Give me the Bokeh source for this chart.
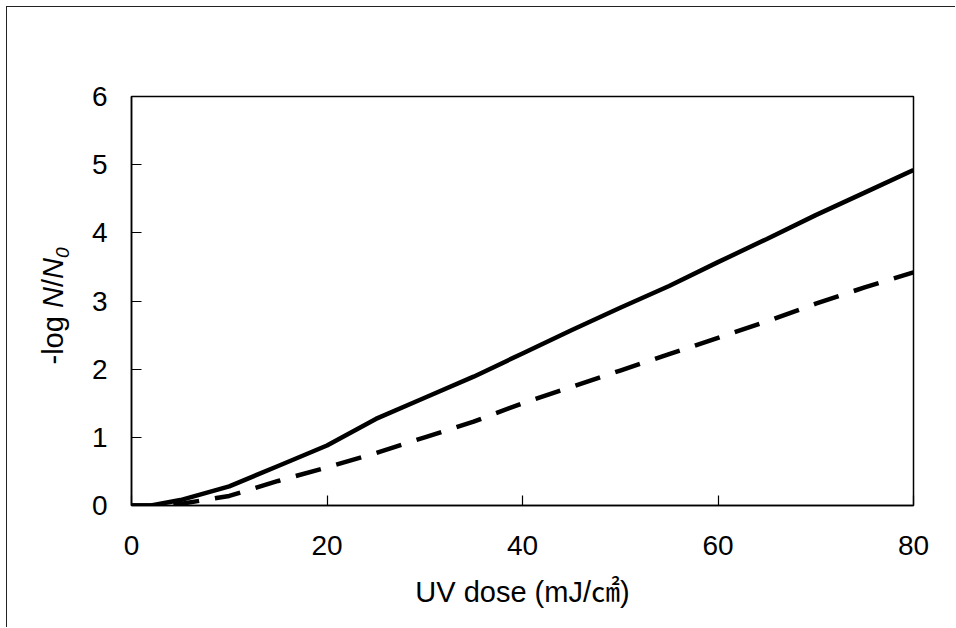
from bokeh.plotting import figure
from bokeh.models import Range1d, FixedTicker, Div
from bokeh.layouts import row
from bokeh.embed import file_html
from bokeh.resources import INLINE

# UV dose (mJ/cm2) and log inactivation for the two curves
dose_solid = [0, 2, 5, 10, 15, 20, 25, 30, 35, 40, 45, 50, 55, 60, 65, 70, 75, 80]
logred_solid = [0, 0, 0.08, 0.28, 0.58, 0.88, 1.27, 1.58, 1.89, 2.23, 2.57, 2.9,
                3.22, 3.57, 3.91, 4.26, 4.59, 4.92]

dose_dashed = [0, 4, 10, 15, 20, 25, 30, 35, 40, 45, 50, 55, 60, 65, 70, 75, 80]
logred_dashed = [0, 0, 0.14, 0.36, 0.56, 0.77, 1.0, 1.23, 1.5, 1.74, 1.98, 2.22,
                 2.46, 2.7, 2.96, 3.2, 3.42]

x_ticks = [0, 20, 40, 60, 80]
y_ticks = [0, 1, 2, 3, 4, 5, 6]

FONT = '"Liberation Sans", "Noto Sans CJK KR", sans-serif'
LABEL_W = 76
H = 620

p = figure(width=948 - LABEL_W, height=H, output_backend="svg", toolbar_location=None,
           x_range=Range1d(0, 80), y_range=Range1d(0, 6),
           min_border_left=124 - LABEL_W, min_border_right=42,
           min_border_top=89, min_border_bottom=122)

p.background_fill_color = "white"
p.border_fill_color = "white"
p.outline_line_color = "black"
p.outline_line_width = 1.5
p.xgrid.visible = False
p.ygrid.visible = False

for ax, ticks in ((p.xaxis, x_ticks), (p.yaxis, y_ticks)):
    ax.ticker = FixedTicker(ticks=ticks)
    ax.major_tick_in = 10
    ax.major_tick_out = 0
    ax.minor_tick_line_color = None
    ax.axis_line_width = 1.5
    ax.major_tick_line_width = 1.2
    ax.major_label_text_font = FONT
    ax.major_label_text_font_size = "28px"
    ax.major_label_text_color = "black"

p.xaxis.major_label_standoff = 30
p.yaxis.major_label_standoff = 24

p.xaxis.axis_label = "UV dose (mJ/\u33a0)"
p.xaxis.axis_label_text_font = FONT
p.xaxis.axis_label_text_font_size = "29px"
p.xaxis.axis_label_text_font_style = "normal"
p.xaxis.axis_label_standoff = 18
p.xaxis.axis_label_text_color = "black"

p.line(dose_solid, logred_solid, line_color="black", line_width=4.5)
p.line(dose_dashed, logred_dashed, line_color="black", line_width=4.5,
       line_dash="26 16")

# vertical y-axis title with italic N/N0 and subscript
ytitle = Div(
    width=LABEL_W, height=H, margin=0,
    text=(
        '<div style="position:relative;width:%dpx;height:%dpx;">'
        '<span style="position:absolute;left:49px;top:299px;'
        'transform:translate(-50%%,-50%%) rotate(-90deg);white-space:nowrap;'
        "font-family:'Liberation Sans',sans-serif;font-size:29px;color:black;"
        'line-height:1.1;padding:0 2px;">'
        '-log <i>N</i>/<i>N</i><sub style="font-size:19px;font-style:italic;">0</sub>'
        '</span></div>' % (LABEL_W, H)
    ),
)

layout = row(ytitle, p, styles={
    "border-left": "1.5px solid #222", "border-top": "1.5px solid #222",
    "margin-left": "6px", "margin-top": "6px", "background": "white",
})

open("out.html", "w").write(file_html(layout, INLINE))
